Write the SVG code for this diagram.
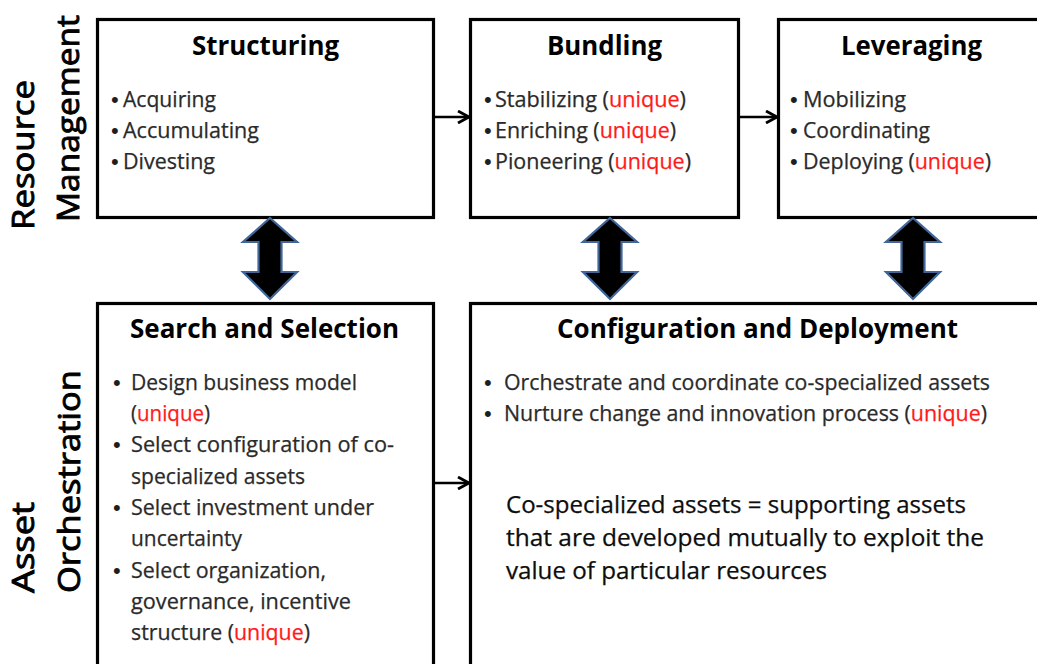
<svg xmlns="http://www.w3.org/2000/svg" width="1037" height="664" viewBox="0 0 1037 664">
  <style>
    .box { fill: #ffffff; stroke: #000000; stroke-width: 3.2; }
    .title { font-family: "Open Sans", "Liberation Sans", sans-serif; font-weight: bold; font-size: 26px; fill: #000000; text-anchor: middle; }
    .item { font-family: "Open Sans", "Liberation Sans", sans-serif; font-size: 21px; fill: #2a2a2a; stroke: #2a2a2a; stroke-width: 0.25; }
    .bullet { font-family: "Liberation Sans", sans-serif; font-size: 22px; fill: #1e1e1e; }
    .note { font-family: "Open Sans", "Liberation Sans", sans-serif; font-size: 23px; fill: #0d0d0d; stroke: #0d0d0d; stroke-width: 0.25; }
    .side { font-family: "Open Sans", "Liberation Sans", sans-serif; font-size: 31px; fill: #000000; stroke: #000000; stroke-width: 0.9; }
    .red { fill: #ff1a1a; stroke: #ff1a1a; }
    .flow { stroke: #000000; stroke-width: 2.6; fill: none; }
    .dbl { fill: #000000; stroke: #41679a; stroke-width: 2.2; stroke-linejoin: miter; }
  </style>
  <defs>
    <marker id="chevron" viewBox="0 0 14 14" refX="12.5" refY="7" markerWidth="14" markerHeight="14" markerUnits="userSpaceOnUse" orient="auto">
      <path d="M1.5,1 L12.5,7 L1.5,13" fill="none" stroke="#000000" stroke-width="2.8"/>
    </marker>
    <polygon id="dblArrow" points="0,-41 27,-17 11.5,-17 11.5,13 27,13 0,40 -27,13 -11.5,13 -11.5,-17 -27,-17"/>
  </defs>

  <rect width="1037" height="664" fill="#ffffff"/>

  <!-- row labels -->
  <g id="label-resource-management">
    <text class="side" transform="translate(34,230) rotate(-90)" textLength="150" lengthAdjust="spacingAndGlyphs">Resource</text>
    <text class="side" transform="translate(79,222) rotate(-90)" textLength="207" lengthAdjust="spacingAndGlyphs">Management</text>
  </g>
  <g id="label-asset-orchestration">
    <text class="side" transform="translate(34,593) rotate(-90)" textLength="91" lengthAdjust="spacingAndGlyphs">Asset</text>
    <text class="side" transform="translate(80,593) rotate(-90)" textLength="223" lengthAdjust="spacingAndGlyphs">Orchestration</text>
  </g>

  <!-- Resource management stages -->
  <g id="structuring">
    <rect class="box" x="97.5" y="19.5" width="336" height="198"/>
    <text class="title" x="265.5" y="55" textLength="147" lengthAdjust="spacingAndGlyphs">Structuring</text>
    <text class="bullet" x="111" y="107">•</text>
    <text class="item" x="123" y="107" textLength="93" lengthAdjust="spacingAndGlyphs">Acquiring</text>
    <text class="bullet" x="111" y="138">•</text>
    <text class="item" x="123" y="138" textLength="136" lengthAdjust="spacingAndGlyphs">Accumulating</text>
    <text class="bullet" x="111" y="169">•</text>
    <text class="item" x="123" y="169" textLength="92" lengthAdjust="spacingAndGlyphs">Divesting</text>
  </g>

  <g id="bundling">
    <rect class="box" x="470.5" y="19.5" width="268" height="198"/>
    <text class="title" x="604.5" y="55" textLength="115" lengthAdjust="spacingAndGlyphs">Bundling</text>
    <text class="bullet" x="484" y="107">•</text>
    <text class="item" x="495" y="107" textLength="191" lengthAdjust="spacingAndGlyphs">Stabilizing (<tspan class="red">unique</tspan>)</text>
    <text class="bullet" x="484" y="138">•</text>
    <text class="item" x="495" y="138" textLength="181" lengthAdjust="spacingAndGlyphs">Enriching (<tspan class="red">unique</tspan>)</text>
    <text class="bullet" x="484" y="169">•</text>
    <text class="item" x="495" y="169" textLength="196" lengthAdjust="spacingAndGlyphs">Pioneering (<tspan class="red">unique</tspan>)</text>
  </g>

  <g id="leveraging">
    <rect class="box" x="778.5" y="19.5" width="270" height="198"/>
    <text class="title" x="911.5" y="55" textLength="141" lengthAdjust="spacingAndGlyphs">Leveraging</text>
    <text class="bullet" x="790" y="107">•</text>
    <text class="item" x="803" y="107" textLength="103" lengthAdjust="spacingAndGlyphs">Mobilizing</text>
    <text class="bullet" x="790" y="138">•</text>
    <text class="item" x="803" y="138" textLength="127" lengthAdjust="spacingAndGlyphs">Coordinating</text>
    <text class="bullet" x="790" y="169">•</text>
    <text class="item" x="803" y="169" textLength="188" lengthAdjust="spacingAndGlyphs">Deploying (<tspan class="red">unique</tspan>)</text>
  </g>

  <!-- Asset orchestration stages -->
  <g id="search-and-selection">
    <rect class="box" x="97.5" y="303.5" width="336" height="370"/>
    <text class="title" x="264.5" y="338" textLength="269" lengthAdjust="spacingAndGlyphs">Search and Selection</text>
    <text class="bullet" x="113" y="390">•</text>
    <text class="item" x="131" y="390" textLength="226" lengthAdjust="spacingAndGlyphs">Design business model</text>
    <text class="item" x="131" y="421" textLength="79" lengthAdjust="spacingAndGlyphs">(<tspan class="red">unique</tspan>)</text>
    <text class="bullet" x="113" y="452">•</text>
    <text class="item" x="131" y="452" textLength="263" lengthAdjust="spacingAndGlyphs">Select configuration of co-</text>
    <text class="item" x="131" y="484" textLength="174" lengthAdjust="spacingAndGlyphs">specialized assets</text>
    <text class="bullet" x="113" y="515">•</text>
    <text class="item" x="131" y="515" textLength="243" lengthAdjust="spacingAndGlyphs">Select investment under</text>
    <text class="item" x="131" y="546" textLength="111" lengthAdjust="spacingAndGlyphs">uncertainty</text>
    <text class="bullet" x="113" y="578">•</text>
    <text class="item" x="131" y="578" textLength="195" lengthAdjust="spacingAndGlyphs">Select organization,</text>
    <text class="item" x="131" y="609" textLength="220" lengthAdjust="spacingAndGlyphs">governance, incentive</text>
    <text class="item" x="131" y="640" textLength="179" lengthAdjust="spacingAndGlyphs">structure (<tspan class="red">unique</tspan>)</text>
  </g>

  <g id="configuration-and-deployment">
    <rect class="box" x="470.5" y="303.5" width="578" height="370"/>
    <text class="title" x="757.5" y="338" textLength="401" lengthAdjust="spacingAndGlyphs">Configuration and Deployment</text>
    <text class="bullet" x="484" y="390">•</text>
    <text class="item" x="504" y="390" textLength="486" lengthAdjust="spacingAndGlyphs">Orchestrate and coordinate co-specialized assets</text>
    <text class="bullet" x="484" y="421">•</text>
    <text class="item" x="504" y="421" textLength="483" lengthAdjust="spacingAndGlyphs">Nurture change and innovation process (<tspan class="red">unique</tspan>)</text>
    <text class="note" x="506" y="513" textLength="460" lengthAdjust="spacingAndGlyphs">Co-specialized assets = supporting assets</text>
    <text class="note" x="506" y="546" textLength="478" lengthAdjust="spacingAndGlyphs">that are developed mutually to exploit the</text>
    <text class="note" x="506" y="579" textLength="321" lengthAdjust="spacingAndGlyphs">value of particular resources</text>
  </g>

  <!-- connectors -->
  <g id="connectors">
    <line class="flow" x1="435" y1="117" x2="469" y2="117" marker-end="url(#chevron)"/>
    <line class="flow" x1="740" y1="117" x2="777" y2="117" marker-end="url(#chevron)"/>
    <line class="flow" x1="435" y1="483" x2="469" y2="483" marker-end="url(#chevron)"/>
    <use class="dbl" href="#dblArrow" x="270" y="259"/>
    <use class="dbl" href="#dblArrow" x="610" y="259"/>
    <use class="dbl" href="#dblArrow" x="913" y="259"/>
  </g>
</svg>
